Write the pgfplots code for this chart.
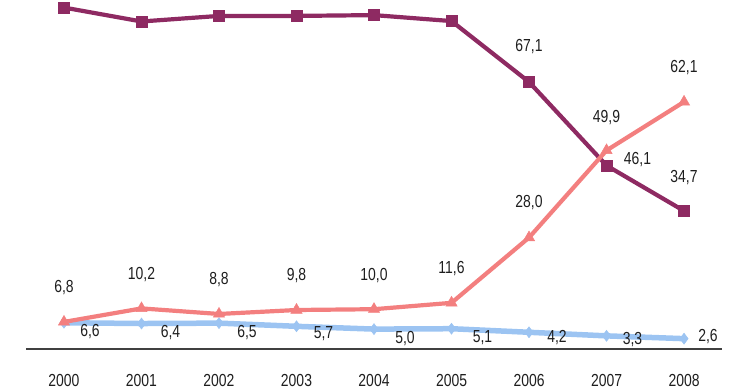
\documentclass[border=0pt]{standalone}
\usepackage{fontspec}
\setmainfont{Liberation Sans}[FakeStretch=0.8]
\usepackage{pgfplots}
\pgfplotsset{compat=1.18}
\definecolor{cPurple}{HTML}{8E2A62}
\definecolor{cSalmon}{HTML}{F37F7F}
\definecolor{cBlue}{HTML}{9CC4F2}
\definecolor{cText}{HTML}{1E1E1E}
\tikzset{lbl/.style={font=\fontsize{17.5}{19}\selectfont, text=cText, anchor=center, inner sep=0pt}}
\begin{document}
\begin{tikzpicture}
\begin{axis}[
  scale only axis, width=696bp, height=349bp,
  xmin=-0.49, xmax=8.49, ymin=0, ymax=87.7,
  axis x line=bottom, axis y line=none,
  x axis line style={-, draw=black!75, line width=1.3bp},
  xtick={0,1,2,3,4,5,6,7,8},
  xticklabels={2000,2001,2002,2003,2004,2005,2006,2007,2008},
  major tick length=0,
  xticklabel style={font=\fontsize{17.5}{19}\selectfont, text=cText, anchor=center, yshift=-31bp},
  clip=false,
]
\addplot[cBlue, line width=5.5bp, mark=diamond*, mark size=5.5bp, mark options={fill=cBlue, draw=cBlue, line width=0.5bp}]
  coordinates {(0,6.6) (1,6.4) (2,6.5) (3,5.7) (4,5.0) (5,5.1) (6,4.2) (7,3.3) (8,2.6)};
\addplot[cPurple, line width=4.2bp, mark=square*, mark size=5.5bp, mark options={fill=cPurple, draw=cPurple, line width=0.5bp}]
  coordinates {(0,85.8) (1,82.3) (2,83.7) (3,83.7) (4,83.9) (5,82.4) (6,67.1) (7,46.1) (8,34.7)};
\addplot[cSalmon, line width=4.2bp, mark=triangle*, mark size=6.5bp, mark options={fill=cSalmon, draw=cSalmon, line width=0.5bp}]
  coordinates {(0,6.8) (1,10.2) (2,8.8) (3,9.8) (4,10.0) (5,11.6) (6,28.0) (7,49.9) (8,62.1)};
% salmon labels
\node[lbl, yshift=34bp] at (axis cs:0,6.8) {6,8};
\node[lbl, yshift=34bp] at (axis cs:1,10.2) {10,2};
\node[lbl, yshift=34bp] at (axis cs:2,8.8) {8,8};
\node[lbl, yshift=34bp] at (axis cs:3,9.8) {9,8};
\node[lbl, yshift=34bp] at (axis cs:4,10.0) {10,0};
\node[lbl, yshift=34bp] at (axis cs:5,11.6) {11,6};
\node[lbl, yshift=35bp] at (axis cs:6,28.0) {28,0};
\node[lbl, yshift=33bp] at (axis cs:7,49.9) {49,9};
\node[lbl, yshift=34bp] at (axis cs:8,62.1) {62,1};
% purple labels
\node[lbl, yshift=35bp] at (axis cs:6,67.1) {67,1};
\node[lbl, xshift=31bp, yshift=6bp] at (axis cs:7,46.1) {46,1};
\node[lbl, yshift=33bp] at (axis cs:8,34.7) {34,7};
% blue labels
\node[lbl, xshift=26bp, yshift=-9bp] at (axis cs:0,6.6) {6,6};
\node[lbl, xshift=29bp, yshift=-8.5bp] at (axis cs:1,6.4) {6,4};
\node[lbl, xshift=28bp, yshift=-9bp] at (axis cs:2,6.5) {6,5};
\node[lbl, xshift=27bp, yshift=-7bp] at (axis cs:3,5.7) {5,7};
\node[lbl, xshift=31bp, yshift=-9bp] at (axis cs:4,5.0) {5,0};
\node[lbl, xshift=31bp, yshift=-9bp] at (axis cs:5,5.1) {5,1};
\node[lbl, xshift=28bp, yshift=-5bp] at (axis cs:6,4.2) {4,2};
\node[lbl, xshift=26bp, yshift=-4bp] at (axis cs:7,3.3) {3,3};
\node[lbl, xshift=24bp, yshift=2bp] at (axis cs:8,2.6) {2,6};
\end{axis}
\pgfresetboundingbox
\path[use as bounding box] (-26bp,-40bp) rectangle (714bp,349bp);
\end{tikzpicture}
\end{document}
